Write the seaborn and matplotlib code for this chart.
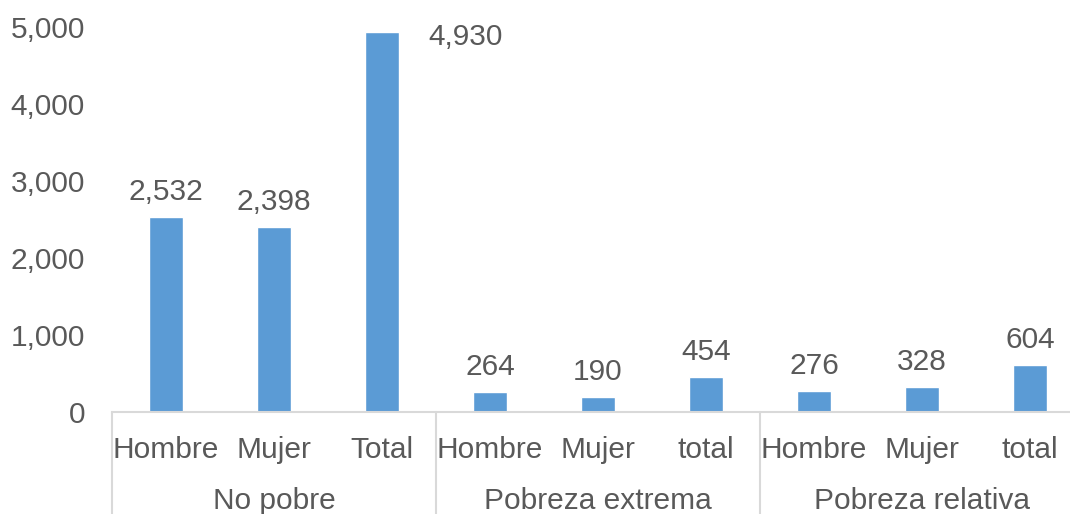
import matplotlib
matplotlib.use("Agg")
import matplotlib.pyplot as plt
import seaborn as sns
import pandas as pd

groups = ["No pobre", "Pobreza extrema", "Pobreza relativa"]
subcats = [["Hombre", "Mujer", "Total"], ["Hombre", "Mujer", "total"], ["Hombre", "Mujer", "total"]]
values = [2532, 2398, 4930, 264, 190, 454, 276, 328, 604]
yticks = [0, 1000, 2000, 3000, 4000, 5000]

sns.set_theme(style="white")
plt.rcParams["font.family"] = ["Liberation Sans", "DejaVu Sans"]

labels = [s for sub in subcats for s in sub]
keys = [f"{g}|{s}" for g, sub in zip(groups, subcats) for s in sub]
df = pd.DataFrame({"key": keys, "value": values})

FS = 21.5
fig = plt.figure(figsize=(10.70, 5.14), dpi=100)
ax = fig.add_axes([112 / 1070, 102 / 514, 972 / 1070, 385 / 514])
sns.barplot(data=df, x="key", y="value", order=keys, color="#5B9BD5",
            width=0.31, saturation=1, ax=ax)

txt = "#595959"
ax.set_xlim(-0.5, len(keys) - 0.5)
ax.set_ylim(0, 5000)
ax.set_yticks(yticks)
ax.set_yticklabels([f"{v:,}" for v in yticks], fontsize=FS, color=txt)
ax.tick_params(axis="y", length=0, pad=19.5)
ax.set_xticks(range(len(keys)))
ax.set_xticklabels(labels, fontsize=FS, color=txt)
ax.tick_params(axis="x", length=0, pad=17)
ax.set_xlabel("")
ax.set_ylabel("")
for s in ["top", "right", "left"]:
    ax.spines[s].set_visible(False)
ax.spines["bottom"].set_color("#d9d9d9")
ax.spines["bottom"].set_linewidth(1.5)

# value labels
for i, v in enumerate(values):
    if v > 0.9 * ax.get_ylim()[1]:
        ax.annotate(f"{v:,}", (i + 0.155, v), xytext=(21, -3), textcoords="offset points",
                    ha="left", va="center", fontsize=FS, color=txt, annotation_clip=False)
    else:
        ax.annotate(f"{v:,}", (i, v), xytext=(0, 8), textcoords="offset points",
                    ha="center", va="bottom", fontsize=FS, color=txt)

# group separators and labels
trans = ax.get_xaxis_transform()
n = 0
for g, sub in zip(groups, subcats):
    ax.plot([n - 0.5, n - 0.5], [0, -0.28], transform=trans, color="#d9d9d9",
            lw=1.5, clip_on=False)
    center = n + (len(sub) - 1) / 2
    ax.text(center, -0.23, g, transform=trans, ha="center", va="center",
            fontsize=FS, color=txt)
    n += len(sub)
ax.plot([n - 0.5, n - 0.5], [0, -0.28], transform=trans, color="#d9d9d9",
        lw=1.5, clip_on=False)

fig.savefig("out.png", dpi=100)
